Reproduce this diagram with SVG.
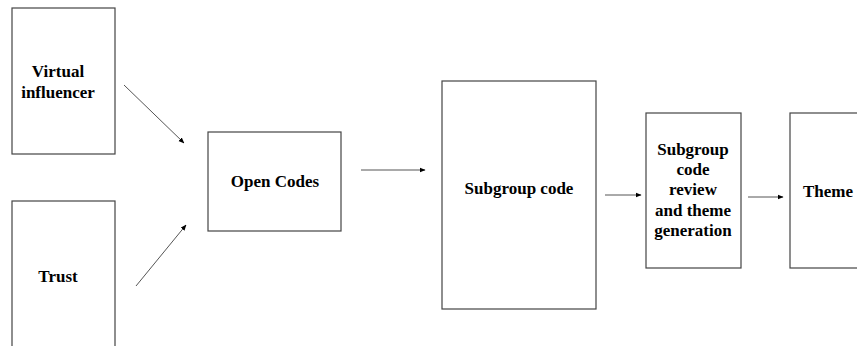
<svg xmlns="http://www.w3.org/2000/svg" width="857" height="346" viewBox="0 0 857 346">
<style>
.box{fill:#fff;stroke:#444;stroke-width:1.2}
.lbl{font-family:"Liberation Serif","Times New Roman",serif;font-weight:bold;font-size:17px;fill:#000;text-anchor:middle}
.con{stroke:#555;stroke-width:1;fill:none;marker-end:url(#ah)}
</style>
<defs>
<marker id="ah" viewBox="0 0 10 10" refX="9" refY="5" markerWidth="6" markerHeight="6" markerUnits="userSpaceOnUse" orient="auto">
<path d="M0,1 L10,5 L0,9 Z" fill="#000"/>
</marker>
</defs>
<rect width="857" height="346" fill="#fff"/>
<g id="n-virtual">
<rect class="box" x="12" y="8" width="103" height="146"/>
<text class="lbl" x="58" y="77">Virtual</text>
<text class="lbl" x="58" y="98">influencer</text>
</g>
<g id="n-trust">
<rect class="box" x="12" y="201" width="103" height="160"/>
<text class="lbl" x="58" y="282">Trust</text>
</g>
<g id="n-open">
<rect class="box" x="208" y="132" width="133" height="99"/>
<text class="lbl" x="275" y="187">Open Codes</text>
</g>
<g id="n-subgroup">
<rect class="box" x="442" y="81" width="154" height="228"/>
<text class="lbl" x="519" y="194">Subgroup code</text>
</g>
<g id="n-review">
<rect class="box" x="646" y="113" width="95" height="155"/>
<text class="lbl" x="693" y="155">Subgroup</text>
<text class="lbl" x="693" y="175">code</text>
<text class="lbl" x="693" y="195">review</text>
<text class="lbl" x="693" y="216">and theme</text>
<text class="lbl" x="693" y="236">generation</text>
</g>
<g id="n-theme">
<rect class="box" x="790" y="113" width="80" height="155"/>
<text class="lbl" x="828" y="197">Theme</text>
</g>
<g id="connectors">
<line class="con" x1="124" y1="85" x2="184" y2="143"/>
<line class="con" x1="136" y1="286" x2="186" y2="225"/>
<line class="con" x1="361" y1="170" x2="425" y2="170"/>
<line class="con" x1="605" y1="195" x2="641" y2="195"/>
<line class="con" x1="748" y1="197" x2="783" y2="197"/>
</g>
</svg>
